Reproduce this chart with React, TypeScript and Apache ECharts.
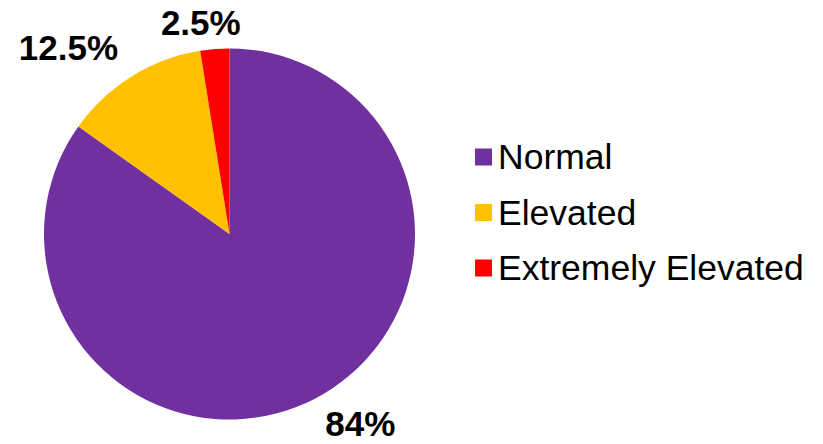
import React, { useEffect, useRef } from "react";
import * as echarts from "echarts";

// Share of readings in each category (percent)
const categories = ["Normal", "Elevated", "Extremely Elevated"];
const shares = [84, 12.5, 2.5];
const colors = ["#7030A0", "#FFC000", "#FF0000"];

// Outside-label offsets per slice: [radial length, horizontal length]
const labelOffsets: [number, number][] = [
  [28, -2],
  [34.5, -4.5],
  [27, -28],
];

const FONT = "'Liberation Sans', Arial, sans-serif";

export default function App() {
  const ref = useRef<HTMLDivElement>(null);

  useEffect(() => {
    if (!ref.current) return;
    const chart = echarts.init(ref.current, null, { renderer: "svg" });
    chart.setOption({
      animation: false,
      backgroundColor: "#ffffff",
      legend: {
        orient: "vertical",
        left: 470,
        top: 134,
        itemWidth: 17,
        itemHeight: 17,
        itemGap: 19.5,
        icon: "rect",
        data: categories,
        textStyle: {
          fontFamily: FONT,
          fontSize: 35.5,
          color: "#000000",
          padding: [0, 0, 0, 1],
        },
      },
      series: [
        {
          type: "pie",
          center: [229.5, 234],
          radius: 185.5,
          startAngle: 90,
          clockwise: true,
          avoidLabelOverlap: false,
          label: {
            show: true,
            position: "outside",
            distanceToLabelLine: 0,
            formatter: (p: any) => `${p.value}%`,
            fontFamily: FONT,
            fontSize: 35,
            lineHeight: 30,
            fontWeight: "bold",
            color: "#000000",
          },
          labelLine: { show: false },
          emphasis: { disabled: true },
          data: categories.map((name, i) => ({
            name,
            value: shares[i],
            itemStyle: { color: colors[i] },
            labelLine: {
              show: false,
              length: labelOffsets[i][0],
              length2: labelOffsets[i][1],
            },
          })),
        },
      ],
    });
    return () => chart.dispose();
  }, []);

  return (
    <div
      ref={ref}
      style={{ position: "absolute", left: 0, top: 0, width: 823, height: 444 }}
    />
  );
}
